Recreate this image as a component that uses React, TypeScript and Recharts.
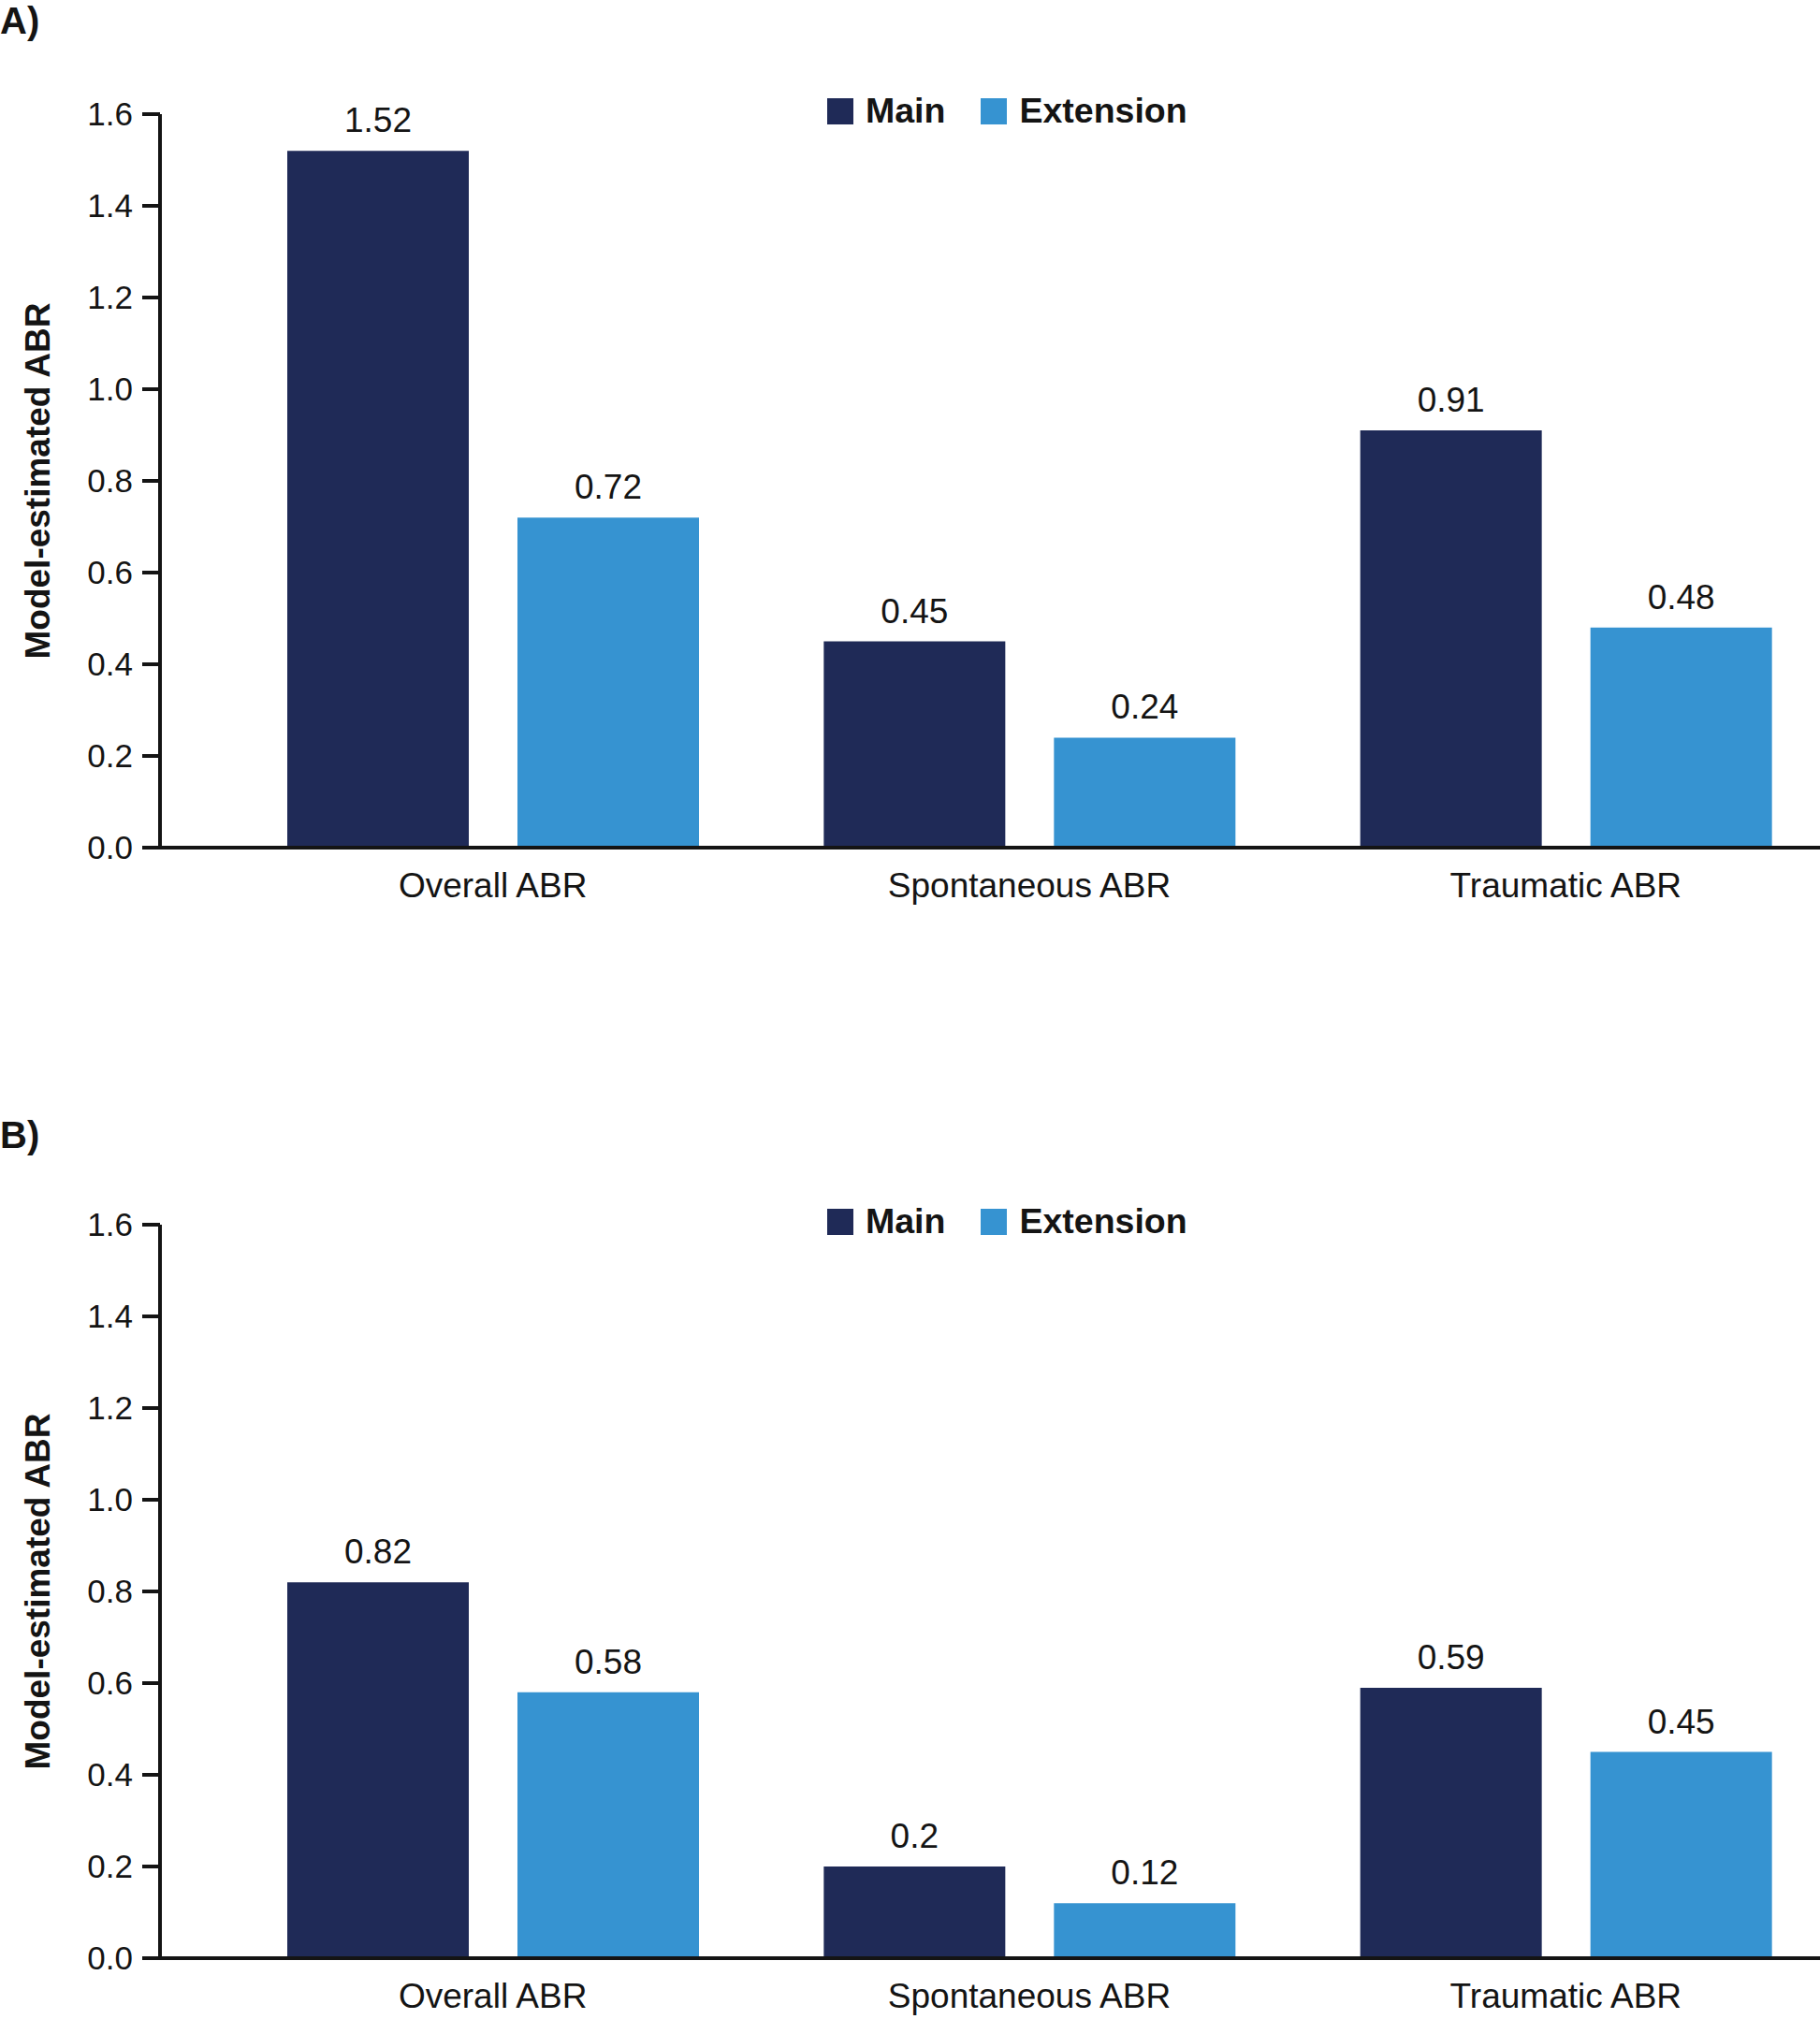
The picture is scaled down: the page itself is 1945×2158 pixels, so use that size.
import { BarChart, Bar, XAxis, YAxis, LabelList, Legend } from 'recharts';

const categories = ['Overall ABR', 'Spontaneous ABR', 'Traumatic ABR'];
const seriesNames = ['Main', 'Extension'];
const mainA = [1.52, 0.45, 0.91];
const extA = [0.72, 0.24, 0.48];
const mainB = [0.82, 0.2, 0.59];
const extB = [0.58, 0.12, 0.45];
const yTicks = [0, 0.2, 0.4, 0.6, 0.8, 1.0, 1.2, 1.4, 1.6];
const yLabel = 'Model-estimated ABR';

const FONT = '"Liberation Sans", Arial, Helvetica, sans-serif';
const INK = '#141414';
const MAIN_COLOR = '#1f2a57';
const EXT_COLOR = '#3693d1';
const colors = [MAIN_COLOR, EXT_COLOR];

function LegendBox() {
  return (
    <div style={{ display: 'flex', alignItems: 'center', fontFamily: FONT }}>
      {seriesNames.map((name, i) => (
        <span
          key={name}
          style={{ display: 'inline-flex', alignItems: 'center', marginRight: i === 0 ? 38 : 0 }}
        >
          <span style={{ display: 'inline-block', width: 28, height: 28, background: colors[i] }} />
          <span style={{ marginLeft: 13, fontSize: 37.5, fontWeight: 700, color: INK, lineHeight: 1 }}>
            {name}
          </span>
        </span>
      ))}
    </div>
  );
}

// rotated y-axis title, centred on the plot height
function YTitle(props: any) {
  const vb = props.viewBox || { y: 0, height: 0 };
  const cx = 40;
  const cy = vb.y + vb.height / 2;
  return (
    <text
      x={cx}
      y={cy}
      transform={`rotate(-90 ${cx} ${cy})`}
      textAnchor="middle"
      dominantBaseline="central"
      fontSize={37}
      fontWeight={700}
      fill={INK}
      fontFamily={FONT}
    >
      {yLabel}
    </text>
  );
}

interface PanelProps {
  letter: string;
  main: number[];
  ext: number[];
  top: number;
  letterTop: number;
}

function Panel({ letter, main, ext, top, letterTop }: PanelProps) {
  const data = categories.map((c, i) => ({ name: c, main: main[i], ext: ext[i] }));
  return (
    <>
      <div
        style={{
          position: 'absolute',
          left: 0,
          top: letterTop,
          fontSize: 40,
          fontWeight: 700,
          lineHeight: 1,
          color: INK,
        }}
      >
        {letter}
      </div>
      <div style={{ position: 'absolute', left: 0, top }}>
        <BarChart
          width={1960}
          height={986}
          data={data}
          margin={{ top: 122, right: 0, bottom: 0, left: 0 }}
          barSize={194}
          barGap={52}
        >
          <XAxis
            dataKey="name"
            height={80}
            padding={{ left: 69, right: 0 }}
            axisLine={{ stroke: INK, strokeWidth: 4 }}
            tickLine={false}
            tickSize={6}
            tickMargin={21}
            tick={{ fontSize: 37, fill: INK }}
          />
          <YAxis
            width={171}
            domain={[0, 1.6]}
            ticks={yTicks}
            interval={0}
            tickFormatter={(v: number) => v.toFixed(1)}
            axisLine={{ stroke: INK, strokeWidth: 4 }}
            tickLine={{ stroke: INK, strokeWidth: 4 }}
            tickSize={19}
            tickMargin={10}
            tick={{ fontSize: 35, fill: INK }}
            label={{ content: YTitle }}
          />
          <Legend
            layout="horizontal"
            verticalAlign="middle"
            align="center"
            content={() => <LegendBox />}
            wrapperStyle={{ left: 884, top: 100, width: 'auto', height: 34 }}
          />
          <Bar dataKey="main" name={seriesNames[0]} fill={MAIN_COLOR} isAnimationActive={false}>
            <LabelList dataKey="main" position="top" offset={20} fontSize={37} fill={INK} />
          </Bar>
          <Bar dataKey="ext" name={seriesNames[1]} fill={EXT_COLOR} isAnimationActive={false}>
            <LabelList dataKey="ext" position="top" offset={20} fontSize={37} fill={INK} />
          </Bar>
        </BarChart>
      </div>
    </>
  );
}

export default function App() {
  return (
    <div
      style={{
        position: 'absolute',
        left: 0,
        top: 0,
        width: 1945,
        height: 2158,
        overflow: 'hidden',
        background: '#fff',
        fontFamily: FONT,
      }}
    >
      <Panel letter="A)" main={mainA} ext={extA} top={0} letterTop={2} />
      <Panel letter="B)" main={mainB} ext={extB} top={1187} letterTop={1193} />
    </div>
  );
}
